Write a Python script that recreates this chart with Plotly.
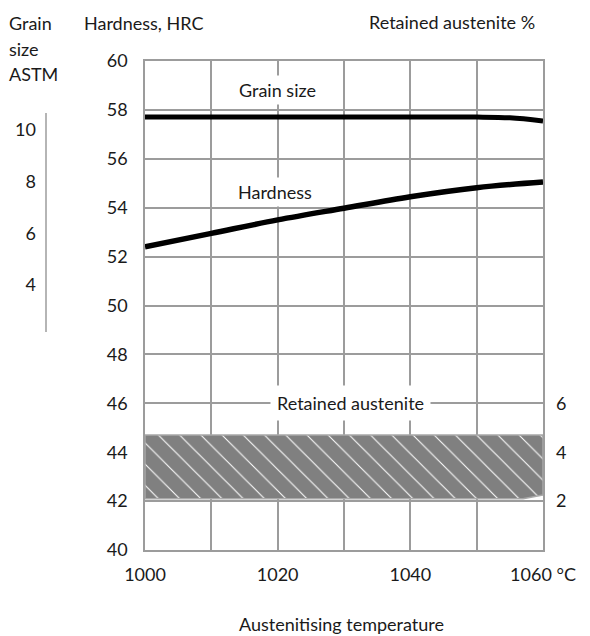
import plotly.graph_objects as go

# ---------------- data ----------------
temp = [1000, 1010, 1020, 1030, 1040, 1050, 1060]
hardness = [52.4, 52.95, 53.5, 53.98, 54.45, 54.82, 55.05]

grain_temp = [1000, 1010, 1020, 1030, 1040, 1050, 1055, 1060]
grain_size = [10.5, 10.5, 10.5, 10.5, 10.5, 10.5, 10.47, 10.35]

ra_temp_upper = [1000, 1060]
ra_upper = [4.7, 4.7]
ra_temp_lower = [1060, 1057, 1000]
ra_lower = [2.25, 2.1, 2.1]

x_ticks = [1000, 1010, 1020, 1030, 1040, 1050, 1060]
x_ticktext = ["1000", "", "1020", "", "1040", "", "1060 °C"]
hard_ticks = [40, 42, 44, 46, 48, 50, 52, 54, 56, 58, 60]
ra_ticks = [2, 4, 6]
grain_ticks = [4, 6, 8, 10]

# ---------------- layout helpers ----------------
OFF = 8  # page body margin
W, H = 590 - 2 * OFF, 636 - OFF
ML, MR, MT, MB = 2, 2, 2, 2
PW, PH = W - ML - MR, H - MT - MB


def px(x):
    return (x - OFF - ML) / PW


def py(y):
    return (H - MB - (y - OFF)) / PH


FONT = "Lato"
TXT = "#1a1a1a"
GRID = "#9c9c9c"
FS = 18

fig = go.Figure()

# Retained austenite band (polygon)
fig.add_trace(go.Scatter(
    x=ra_temp_upper + ra_temp_lower + [ra_temp_upper[0]],
    y=ra_upper + ra_lower + [ra_upper[0]],
    yaxis="y2", mode="lines", fill="toself",
    line=dict(color="#a8a8a8", width=1.5),
    fillcolor="#808080",
    fillpattern=dict(shape="\\", fgcolor="white", bgcolor="#808080",
                     size=15, solidity=0.07, fillmode="replace"),
    hoverinfo="skip", showlegend=False,
))

# Hardness
fig.add_trace(go.Scatter(
    x=temp, y=hardness, mode="lines", line=dict(color="black", width=5.5, shape="spline"),
    showlegend=False,
))

# Grain size
fig.add_trace(go.Scatter(
    x=grain_temp, y=grain_size, yaxis="y3", mode="lines",
    line=dict(color="black", width=5, shape="spline"), showlegend=False,
))

xd = [px(145), px(543)]
yd = [py(550), py(61)]

# grain axis mapping: 10 -> y=130, 4 -> y=285
gpu = (285 - 130) / 6.0
g_top = 10 + (130 - 61) / gpu
g_bot = 10 - (550 - 130) / gpu

fig.update_layout(
    width=W, height=H,
    margin=dict(l=ML, r=MR, t=MT, b=MB, autoexpand=False),
    paper_bgcolor="white", plot_bgcolor="white",
    font=dict(family=FONT, size=FS, color=TXT),
    xaxis=dict(
        domain=xd, range=[1000, 1060], tickvals=x_ticks, ticktext=x_ticktext,
        showgrid=True, gridcolor=GRID, gridwidth=1.5, zeroline=False,
        showline=True, linecolor=GRID, linewidth=1.5, mirror=True,
        ticks="", ticklabelstandoff=8, automargin=False,
        tickfont=dict(size=FS, color=TXT),
    ),
    yaxis=dict(
        domain=yd, range=[40, 60], tickvals=hard_ticks,
        showgrid=True, gridcolor=GRID, gridwidth=1.5, zeroline=False,
        showline=True, linecolor=GRID, linewidth=1.5, mirror=True,
        ticks="", ticklabelstandoff=12, automargin=False,
        tickfont=dict(size=FS, color=TXT),
    ),
    yaxis2=dict(
        overlaying="y", side="right", range=[0, 20], tickvals=ra_ticks,
        showgrid=False, zeroline=False, showline=False, ticks="",
        ticklabelstandoff=12, automargin=False,
        tickfont=dict(size=FS, color=TXT),
    ),
    yaxis3=dict(
        overlaying="y", anchor="free", position=px(46), side="left",
        range=[g_bot, g_top], tickvals=grain_ticks,
        showgrid=False, zeroline=False, showline=False, ticks="",
        ticklabelstandoff=10, automargin=False,
        tickfont=dict(size=FS, color=TXT),
    ),
)

# grain-size axis line (short)
fig.add_shape(type="line", xref="paper", yref="paper",
              x0=px(46), x1=px(46), y0=py(113), y1=py(332),
              line=dict(color=GRID, width=1.5))

# in-plot labels
fig.add_annotation(x=1020, y=58.8, text="Grain size", showarrow=False,
                   bgcolor="white", borderpad=3, font=dict(size=FS, color=TXT))
fig.add_annotation(x=1019.6, y=54.64, text="Hardness", showarrow=False,
                   bgcolor="white", borderpad=3, font=dict(size=FS, color=TXT))
fig.add_annotation(x=1031, y=46, text="Retained austenite", showarrow=False,
                   bgcolor="white", borderpad=6, font=dict(size=FS, color=TXT))

# axis titles
for txt, x, y, anc in [("Grain", 7, 23, "left"), ("size", 7, 49, "left"), ("ASTM", 7, 74, "left"),
                       ("Hardness, HRC", 82, 23, "left"),
                       ("Retained austenite %", 537, 22, "right")]:
    fig.add_annotation(xref="paper", yref="paper", x=px(x), y=py(y), text=txt,
                       showarrow=False, xanchor=anc, yanchor="middle",
                       font=dict(size=FS, color=TXT))

fig.add_annotation(xref="paper", yref="paper", x=px(341), y=py(624),
                   text="Austenitising temperature", showarrow=False,
                   xanchor="center", yanchor="middle", font=dict(size=FS, color=TXT))

fig.write_html("out.html")
